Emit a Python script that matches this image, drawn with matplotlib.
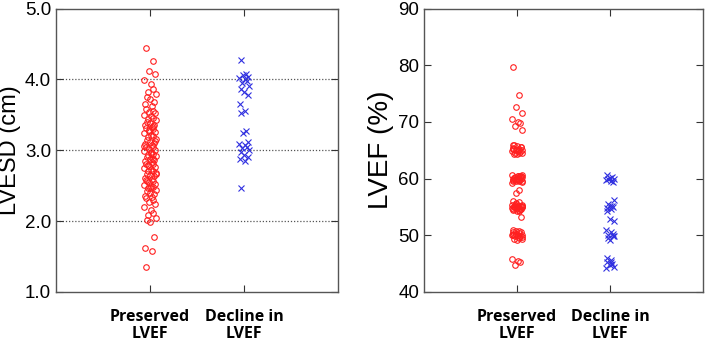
import numpy as np
import matplotlib.pyplot as plt
import matplotlib as mpl

mpl.rcParams.update({
    "font.family": ["Liberation Sans", "DejaVu Sans"],
    "xtick.direction": "in",
    "ytick.direction": "in",
})

GROUPS = ["Preserved\nLVEF", "Decline in\nLVEF"]

# LVESD (cm)
lvesd_preserved = [
    4.45, 4.26, 4.12, 4.08, 3.99, 3.93, 3.86, 3.82, 3.80, 3.75,
    3.72, 3.68, 3.65, 3.62, 3.58, 3.56, 3.54, 3.52, 3.50, 3.48,
    3.46, 3.44, 3.42, 3.40, 3.38, 3.36, 3.35, 3.33, 3.31, 3.30,
    3.28, 3.26, 3.24, 3.22, 3.20, 3.18, 3.16, 3.14, 3.12, 3.10,
    3.09, 3.07, 3.05, 3.04, 3.02, 3.00, 2.99, 2.97, 2.95, 2.93,
    2.92, 2.90, 2.88, 2.86, 2.85, 2.83, 2.81, 2.80, 2.78, 2.76,
    2.75, 2.73, 2.71, 2.70, 2.68, 2.66, 2.65, 2.63, 2.61, 2.60,
    2.58, 2.56, 2.55, 2.53, 2.51, 2.50, 2.48, 2.46, 2.44, 2.42,
    2.40, 2.38, 2.36, 2.34, 2.32, 2.30, 2.27, 2.24, 2.20, 2.16,
    2.12, 2.08, 2.05, 2.02, 1.99, 1.78, 1.62, 1.58, 1.35,
    3.34, 3.27, 3.13, 3.06, 2.96, 2.87, 2.79, 2.67, 2.57, 2.47,
]
lvesd_decline = [
    4.28, 4.08, 4.06, 4.04, 4.02, 4.00, 3.98, 3.95, 3.90, 3.86,
    3.82, 3.78, 3.65, 3.55, 3.52, 3.27, 3.25, 3.12, 3.09, 3.07,
    3.05, 3.03, 3.00, 2.97, 2.93, 2.90, 2.87, 2.85, 2.46,
]

# LVEF (%)
lvef_preserved = [
    79.7, 74.7, 72.7, 71.6, 70.5, 70.0, 69.8, 69.3, 68.6,
    66.0, 65.8, 65.6, 65.4, 65.3, 65.2, 65.1, 65.0, 65.0, 64.9,
    64.8, 64.7, 64.6, 64.5, 64.4, 64.3, 65.5, 65.9, 64.6, 65.2,
    57.9, 57.4,
    60.7, 60.6, 60.5, 60.4, 60.3, 60.2, 60.1, 60.0, 60.0, 59.9,
    59.8, 59.7, 59.6, 59.5, 59.4, 59.3, 60.5, 60.2, 59.8, 59.6,
    60.1, 59.9, 60.4, 59.5, 60.0,
    56.0, 55.8, 55.6, 55.4, 55.3, 55.2, 55.1, 55.0, 55.0, 54.9,
    54.8, 54.7, 54.6, 54.5, 54.4, 54.2, 55.5, 55.2, 54.8, 55.0,
    54.6, 55.3, 54.9, 55.1, 54.3,
    53.2,
    51.0, 50.8, 50.6, 50.4, 50.2, 50.1, 50.0, 50.0, 49.9, 49.8,
    49.6, 49.4, 49.2, 50.5, 50.3, 49.7, 50.1, 49.5, 50.7, 49.3,
    45.8, 45.5, 45.3, 44.8,
]
lvef_decline = [
    60.6, 60.3, 60.1, 60.0, 59.8, 59.6, 59.4, 59.9,
    56.2, 55.5, 55.2, 55.0, 54.8, 54.6, 54.2, 55.1,
    52.8, 52.5,
    51.0, 50.5, 50.2, 50.0, 49.8, 49.5, 49.2, 49.9,
    46.0, 45.6, 45.3, 45.0, 44.7, 44.4, 44.2, 45.2,
]

# fixed jitter pattern (cycled)
JITTER = np.array([-0.05, 0.03, -0.01, 0.06, -0.07, 0.01, 0.04, -0.03, 0.07, -0.04, 0.0, 0.05, -0.06, 0.02])


def jitter_x(center, n, scale=1.0):
    return center + scale * np.resize(JITTER, n)


fig = plt.figure(figsize=(7.09, 3.43), dpi=100)
ax1 = fig.add_axes([0.079, 0.149, 0.398, 0.826])
ax2 = fig.add_axes([0.598, 0.149, 0.394, 0.826])

red = "#ff2020"
blue = "#3030e0"

for ax, pres, dec, sc in [(ax1, lvesd_preserved, lvesd_decline, 0.9),
                          (ax2, lvef_preserved, lvef_decline, 0.8)]:
    ax.plot(jitter_x(1, len(pres), sc), pres, "o", ms=4.0, mfc="none",
            mec=red, mew=0.8, ls="none")
    ax.plot(jitter_x(2, len(dec), sc * 0.8), dec, "x", ms=5.0,
            color=blue, mew=0.8, ls="none")
    ax.set_xlim(0, 3)
    ax.set_xticks([1, 2])
    ax.set_xticklabels(GROUPS, fontfamily="Open Sans", fontweight="bold",
                       fontsize=11.5, linespacing=1.1)
    ax.tick_params(axis="x", top=True, length=5, pad=12, color="#333333")
    ax.tick_params(axis="y", right=True, length=5, labelsize=13.5, color="#333333")
    for s in ax.spines.values():
        s.set_color("#555555")
        s.set_linewidth(1.0)

ax1.set_ylim(1.0, 5.0)
ax1.set_yticks([1, 2, 3, 4, 5])
ax1.set_yticklabels(["1.0", "2.0", "3.0", "4.0", "5.0"])
for g in [2, 3, 4]:
    ax1.axhline(g, color="#555555", ls=(0, (1, 1.5)), lw=0.9, zorder=0)
ax1.set_ylabel("LVESD (cm)", fontsize=17, labelpad=3)

ax2.set_ylim(40, 90)
ax2.set_yticks([40, 50, 60, 70, 80, 90])
ax2.set_ylabel("LVEF (%)", fontsize=20, labelpad=3)

fig.savefig("out.png", dpi=100)
